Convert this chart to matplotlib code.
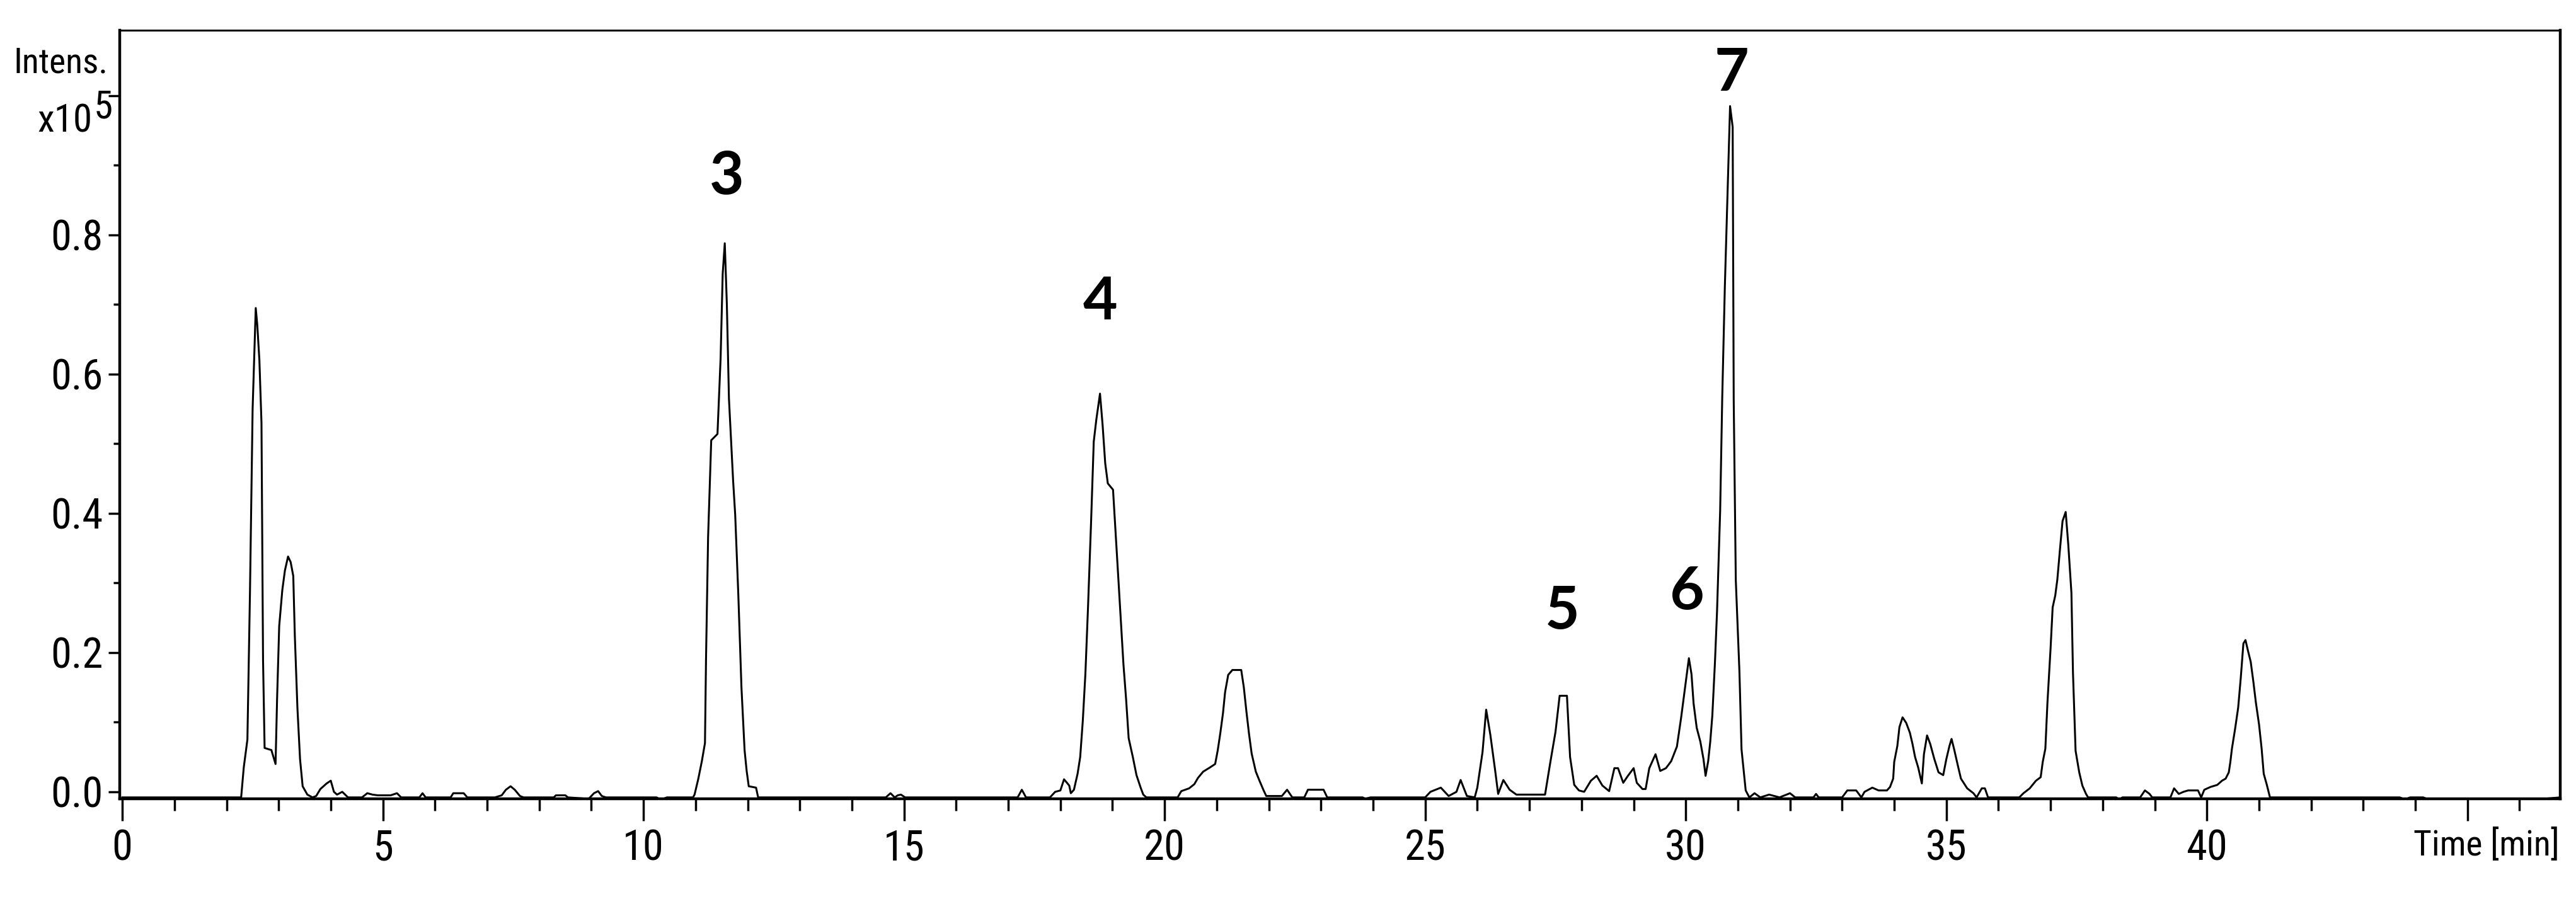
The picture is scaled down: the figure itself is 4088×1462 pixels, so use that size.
import numpy as np
import matplotlib
matplotlib.use("Agg")
import matplotlib.pyplot as plt
from matplotlib.ticker import MultipleLocator, FixedFormatter, FixedLocator

# chromatogram trace (time in min, intensity in 1e5)
t_front = [0.0, 2.28, 2.33, 2.40, 2.45, 2.50, 2.56, 2.59, 2.63, 2.67, 2.70, 2.73, 2.86, 2.94, 2.97,
           3.01, 3.07, 3.12, 3.18, 3.23, 3.28, 3.31, 3.36, 3.41, 3.46, 3.55, 3.65, 3.72, 3.80, 3.92,
           4.00, 4.06, 4.12, 4.22, 4.33]
i_front = [-0.008, -0.008, 0.035, 0.075, 0.29, 0.55, 0.695, 0.67, 0.62, 0.53, 0.19, 0.063, 0.06, 0.04, 0.135,
           0.238, 0.29, 0.318, 0.338, 0.33, 0.31, 0.224, 0.12, 0.047, 0.008, -0.004, -0.008, -0.006, 0.004, 0.012,
           0.016, 0.0, -0.004, 0.0, -0.008]

t_base1 = [4.60, 4.70, 4.80, 4.90, 5.15, 5.27, 5.35, 5.70, 5.76, 5.82, 6.30, 6.35, 6.55, 6.62, 7.15,
           7.28, 7.36, 7.45, 7.53, 7.63, 7.70, 8.28, 8.32, 8.50, 8.55, 8.95, 9.05, 9.13, 9.20, 9.28,
           10.25, 10.30, 10.38, 10.45, 10.95]
i_base1 = [-0.008, -0.002, -0.004, -0.005, -0.005, -0.002, -0.008, -0.008, -0.002, -0.008, -0.008, -0.002,
           -0.002, -0.008, -0.008, -0.005, 0.003, 0.008, 0.003, -0.006, -0.008, -0.008, -0.005, -0.005, -0.008,
           -0.010, -0.002, 0.001, -0.006, -0.008, -0.008, -0.010, -0.010, -0.008, -0.008]

t_pk3 = [10.98, 11.05, 11.12, 11.18, 11.20, 11.24, 11.30, 11.42, 11.48, 11.52, 11.56, 11.60, 11.64,
         11.72, 11.76, 11.82, 11.88, 11.94, 11.98, 12.02, 12.16, 12.20]
i_pk3 = [-0.004, 0.018, 0.044, 0.07, 0.19, 0.366, 0.505, 0.514, 0.623, 0.744, 0.788, 0.70, 0.565,
         0.447, 0.398, 0.283, 0.15, 0.06, 0.03, 0.008, 0.006, -0.008]

t_base2 = [14.65, 14.74, 14.82, 14.88, 14.94, 15.02, 17.18, 17.26, 17.34, 17.80]
i_base2 = [-0.008, -0.002, -0.008, -0.005, -0.004, -0.008, -0.008, 0.003, -0.008, -0.008]

t_pk4 = [17.90, 18.00, 18.07, 18.17, 18.20, 18.26, 18.33, 18.38, 18.43, 18.48, 18.53, 18.59, 18.64,
         18.69, 18.76, 18.81, 18.86, 18.91, 19.01, 19.06, 19.11, 19.16, 19.21, 19.26, 19.31, 19.39,
         19.46, 19.54, 19.59, 19.65]
i_pk4 = [0.0, 0.002, 0.018, 0.009, -0.002, 0.003, 0.026, 0.05, 0.102, 0.17, 0.265, 0.39, 0.503,
         0.535, 0.572, 0.527, 0.472, 0.443, 0.434, 0.372, 0.309, 0.246, 0.183, 0.134, 0.077, 0.05,
         0.024, 0.006, -0.004, -0.008]

t_pk21 = [20.25, 20.32, 20.47, 20.57, 20.64, 20.74, 20.87, 20.97, 21.02, 21.07, 21.12, 21.16, 21.22,
          21.30, 21.47, 21.52, 21.57, 21.62, 21.67, 21.75, 21.82, 21.90, 21.95]
i_pk21 = [-0.008, 0.001, 0.005, 0.011, 0.02, 0.029, 0.035, 0.04, 0.06, 0.085, 0.113, 0.143, 0.168,
          0.175, 0.175, 0.15, 0.115, 0.083, 0.055, 0.029, 0.016, 0.002, -0.006]

t_base3 = [22.25, 22.35, 22.45, 22.68, 22.75, 23.05, 23.12, 23.80, 23.85, 23.95, 24.0, 25.00, 25.10,
           25.30, 25.45, 25.60, 25.68, 25.80, 25.95]
i_base3 = [-0.006, 0.003, -0.008, -0.008, 0.003, 0.003, -0.008, -0.008, -0.010, -0.008, -0.008, -0.008,
           0.0, 0.006, -0.006, 0.0, 0.017, -0.006, -0.008]

t_pk567 = [26.00, 26.10, 26.17, 26.25, 26.34, 26.40, 26.50, 26.62, 26.75, 27.30, 27.40, 27.50, 27.58,
           27.72, 27.78, 27.86, 27.95, 28.05, 28.18, 28.29, 28.40, 28.53, 28.63, 28.70, 28.80, 28.89,
           29.00, 29.06, 29.17, 29.23, 29.30, 29.42, 29.51, 29.62, 29.72, 29.83, 29.91, 30.00, 30.06,
           30.11, 30.15, 30.21, 30.28, 30.34, 30.38, 30.43, 30.47, 30.51, 30.56, 30.60, 30.66, 30.70,
           30.75, 30.80, 30.85, 30.90, 30.92, 30.96, 31.03, 31.07, 31.15]
i_pk567 = [0.006, 0.057, 0.118, 0.082, 0.032, -0.003, 0.017, 0.003, -0.004, -0.004, 0.042, 0.086, 0.138,
           0.138, 0.05, 0.01, 0.002, 0.0, 0.016, 0.023, 0.009, 0.001, 0.034, 0.034, 0.013, 0.023,
           0.034, 0.013, 0.004, 0.004, 0.034, 0.054, 0.03, 0.034, 0.044, 0.065, 0.106, 0.158, 0.192,
           0.169, 0.127, 0.092, 0.072, 0.047, 0.023, 0.044, 0.072, 0.11, 0.186, 0.259, 0.404, 0.567,
           0.726, 0.854, 0.985, 0.955, 0.563, 0.304, 0.172, 0.061, 0.002]

t_base4 = [31.22, 31.32, 31.43, 31.60, 31.80, 32.00, 32.10, 32.45, 32.50, 32.55, 33.00, 33.10, 33.27,
           33.37, 33.43, 33.58, 33.70, 33.86, 33.92, 33.98]
i_base4 = [-0.008, -0.002, -0.008, -0.004, -0.008, -0.002, -0.008, -0.008, -0.003, -0.008, -0.008, 0.002,
           0.002, -0.008, 0.0, 0.006, 0.002, 0.002, 0.007, 0.019]

t_pk37 = [34.00, 34.06, 34.10, 34.16, 34.23, 34.30, 34.35, 34.40, 34.46, 34.53, 34.57, 34.63, 34.69,
          34.77, 34.85, 34.94, 35.00, 35.06, 35.10, 35.15, 35.22, 35.28, 35.40, 35.52, 35.58, 35.68,
          35.74, 35.80, 36.40, 36.48, 36.60, 36.72, 36.81, 36.85, 36.90, 36.94, 37.00, 37.04, 37.09,
          37.13, 37.18, 37.23, 37.29, 37.34, 37.40, 37.43, 37.48, 37.55, 37.61, 37.68, 37.72]
i_pk37 = [0.043, 0.066, 0.093, 0.107, 0.099, 0.085, 0.069, 0.05, 0.035, 0.012, 0.054, 0.081, 0.069,
          0.047, 0.028, 0.024, 0.047, 0.066, 0.076, 0.061, 0.038, 0.019, 0.005, -0.002, -0.008, 0.005,
          0.005, -0.008, -0.008, -0.002, 0.005, 0.016, 0.021, 0.043, 0.062, 0.128, 0.206, 0.265, 0.282,
          0.305, 0.348, 0.389, 0.402, 0.355, 0.286, 0.171, 0.059, 0.028, 0.009, -0.003, -0.008]

t_tail = [38.26, 38.32, 38.38, 38.72, 38.81, 38.90, 38.95, 39.30, 39.37, 39.46, 39.55, 39.64, 39.83,
          39.89, 39.95, 40.07, 40.20, 40.29, 40.36, 40.42, 40.45, 40.48, 40.54, 40.60, 40.65, 40.70,
          40.74, 40.79, 40.84, 40.89, 40.94, 41.00, 41.05, 41.09, 41.15, 41.21, 43.70, 43.80, 43.90,
          44.15, 44.25, 45.05, 45.30, 45.50, 45.70, 46.10, 46.30, 46.78]
i_tail = [-0.008, -0.011, -0.008, -0.008, 0.002, -0.003, -0.008, -0.008, 0.005, -0.003, 0.0, 0.002, 0.002,
          -0.008, 0.003, 0.007, 0.01, 0.016, 0.019, 0.028, 0.043, 0.062, 0.09, 0.121, 0.164, 0.213,
          0.218, 0.202, 0.187, 0.159, 0.128, 0.097, 0.062, 0.026, 0.01, -0.008, -0.008, -0.011, -0.008,
          -0.008, -0.011, -0.011, -0.011, -0.011, -0.011, -0.011, -0.011, -0.008]

# peak annotations
peak_labels = ["3", "4", "5", "6", "7"]
peak_x = [11.6, 18.77, 27.63, 30.03, 30.88]
peak_y = [0.883, 0.703, 0.259, 0.287, 1.032]

x_major = [0, 5, 10, 15, 20, 25, 30, 35, 40, 45]
x_labels = ["0", "5", "10", "15", "20", "25", "30", "35", "40", ""]
y_major = [0.0, 0.2, 0.4, 0.6, 0.8, 1.0]
y_labels = ["0.0", "0.2", "0.4", "0.6", "0.8", ""]

time = np.concatenate([t_front, t_base1, t_pk3, t_base2, t_pk4, t_pk21, t_base3,
                       t_pk567, t_base4, t_pk37, t_tail])
intens = np.concatenate([i_front, i_base1, i_pk3, i_base2, i_pk4, i_pk21, i_base3,
                         i_pk567, i_base4, i_pk37, i_tail])

W, H = 4088, 1462
# narrow sans for the axis texts (falls back to plain Liberation Sans)
narrow = ["Roboto Condensed", "Liberation Sans Narrow", "Liberation Sans", "DejaVu Sans"]
plt.rcParams['font.family'] = narrow

fig = plt.figure(figsize=(W / 100, H / 100), dpi=100)
ax = fig.add_axes([190 / W, 1 - 1268 / H, (4063 - 190) / W, (1268 - 48) / H])

ax.plot(time, intens, color='black', linewidth=2.2)

ax.set_xlim(-0.05, 46.78)
ax.set_ylim(-0.010, 1.094)

# ticks: major every 5 min / 0.2, minor every 1 min / 0.1
ax.xaxis.set_major_locator(FixedLocator(x_major))
ax.xaxis.set_major_formatter(FixedFormatter(x_labels))
ax.xaxis.set_minor_locator(MultipleLocator(1))
ax.yaxis.set_major_locator(FixedLocator(y_major))
ax.yaxis.set_major_formatter(FixedFormatter(y_labels))
ax.yaxis.set_minor_locator(MultipleLocator(0.1))

ax.tick_params(axis='x', which='major', length=25, width=2.5, pad=9, labelsize=48, colors='black')
ax.tick_params(axis='x', which='minor', length=14, width=2.5)
ax.tick_params(axis='y', which='major', length=13, width=2.5, pad=6, labelsize=48, colors='black')
ax.tick_params(axis='y', which='minor', length=7, width=2.5)

for side in ['left', 'bottom', 'right']:
    ax.spines[side].set_linewidth(3.2)
ax.spines['top'].set_linewidth(2.2)

# axis titles in the corners, like the instrument software puts them
fig.text(172 / W, 1 - 115 / H, "Intens.", ha='right', va='baseline', fontsize=40)
fig.text(147 / W, 1 - 210 / H, "x10", ha='right', va='baseline', fontsize=44)
fig.text(149 / W, 1 - 187 / H, "5", ha='left', va='baseline', fontsize=44)
fig.text(4062 / W, 1 - 1315 / H, "Time [min]", ha='right', va='top', fontsize=40)

for lab, px, py in zip(peak_labels, peak_x, peak_y):
    ax.text(px, py, lab, ha='center', va='center', fontsize=68, fontweight='bold',
            family=['Lato', 'DejaVu Sans'])

fig.savefig("out.png", dpi=100)
